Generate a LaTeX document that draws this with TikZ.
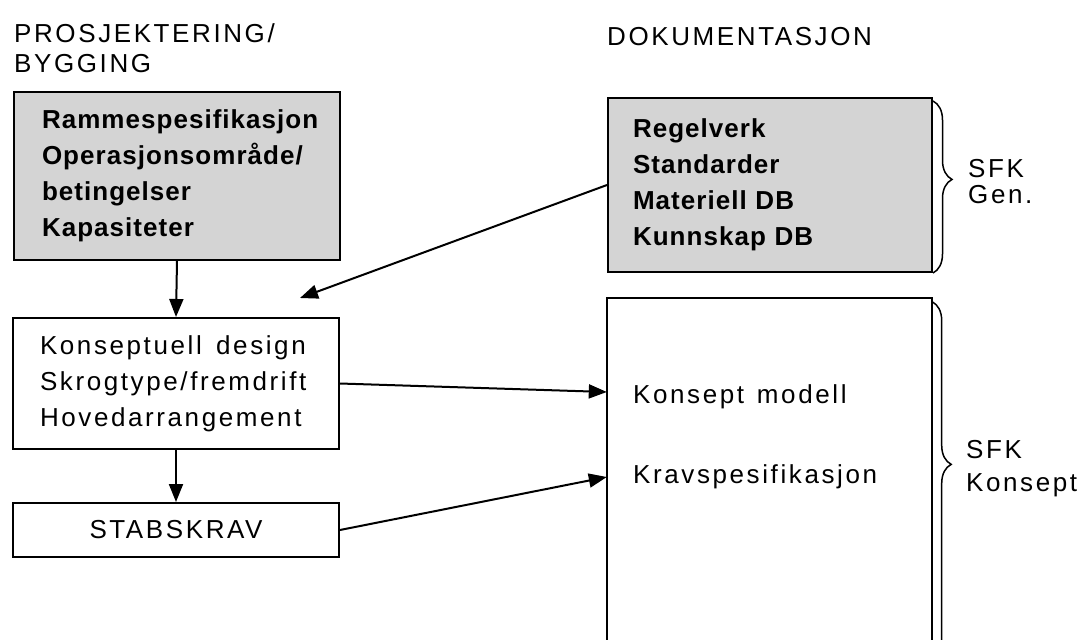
\documentclass[tikz,border=0pt]{standalone}
\usepackage{fontspec}
\setmainfont{Liberation Sans}[LetterSpace=10, WordSpace=1.3, BoldFeatures={LetterSpace=4}]
\usetikzlibrary{arrows.meta,decorations.pathreplacing,calc}
\begin{document}
\begin{tikzpicture}[x=1pt,y=-1pt,
  txt/.style={font=\fontsize{26}{36}\selectfont},
  btxt/.style={font=\fontsize{26}{36}\selectfont\bfseries},
  box/.style={draw, line width=2pt, inner sep=0pt, txt},
  shaded/.style={fill=black!17},
  arr/.style={line width=2pt, -{Triangle[length=18pt,width=14pt]}},
  lbl/.style={inner sep=0pt, anchor=base west, txt},
  brc/.style={line width=1.5pt, decorate},
]
\useasboundingbox (0,0) rectangle (1080,640);

% headings
\node[lbl] (t1) at (14,42) {PROSJEKTERING/};
\node[lbl] (t2) at (14,72) {BYGGING};
\node[lbl] (t3) at (607,45) {DOKUMENTASJON};

% left column
\node[box, shaded, minimum width=326pt, minimum height=168pt, text width=270pt, align=left, btxt] (b1) at (177,176)
  {Rammespesifikasjon\\Operasjonsområde/\\betingelser\\Kapasiteter};
\node[box, minimum width=326pt, minimum height=131pt, text width=272pt, align=left] (b2) at (176,383.5)
  {Konseptuell\hspace{0.55em}design\\Skrogtype/fremdrift\\Hovedarrangement};
\node[box, minimum width=326pt, minimum height=54pt, align=center] (b3) at (176,530) {STABSKRAV};

% right column
\node[box, shaded, minimum width=324pt, minimum height=174pt, text width=274pt, align=left, btxt] (rb) at (770,185)
  {Regelverk\\Standarder\\Materiell DB\\Kunnskap DB};
\node[minimum width=325pt, minimum height=402pt, inner sep=0pt] (km) at (769.5,499) {};
\draw[line width=2pt] (km.south west) |- (km.north east) -- (km.south east);
\node[lbl, anchor=west] (km1) at (633,397) {Konsept modell};
\node[lbl, anchor=west] (km2) at (633,477) {Kravspesifikasjon};

% braces and labels
\draw[brc, decoration={brace, amplitude=19pt, aspect=0.456}] ([yshift=-4pt]rb.north east) -- (rb.south east);
\draw[brc, decoration={brace, amplitude=19pt, aspect=0.408}] ([yshift=-4pt]km.north east) -- (km.south east);
\node[lbl] (s1) at (968,177) {SFK};
\node[lbl] (g1) at (968,203) {Gen.};
\node[lbl] (s2) at (966,458) {SFK};
\node[lbl] (k2) at (966,491) {Konsept};

% connectors
\coordinate (c1) at (300,298);
\draw[arr] (b1.south) -- (b2.north);
\draw[arr] (b2.south) -- (b3.north);
\draw[arr] (rb.west) -- (c1);
\draw[arr] (b2.east) -- ($(km.west |- km1.west)+(0,-5)$);
\draw[arr] (b3.east) -- (km.west |- km2.west);
\end{tikzpicture}
\end{document}
